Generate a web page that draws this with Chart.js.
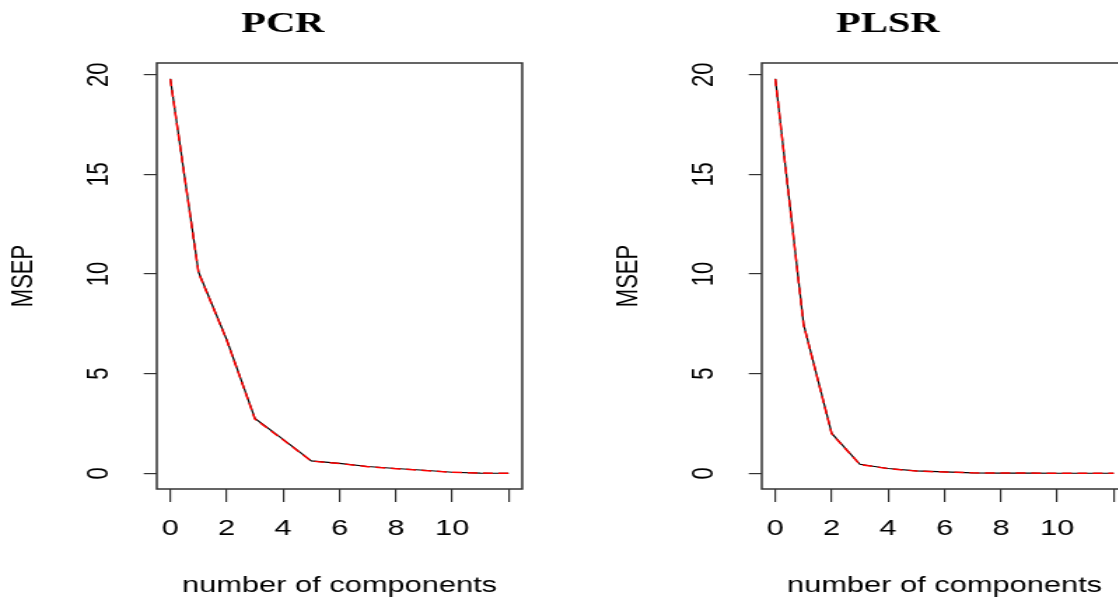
<!DOCTYPE html>
<html lang="en">

<head>
    <meta charset="UTF-8">
    <title>MSEP | PCR x PLSR</title>
    <script src="https://cdn.jsdelivr.net/npm/chart.js"></script>
    <style>
        html,
        body {
            margin: 0;
            padding: 0;
            background: #fff;
            overflow: hidden;
        }

        body {
            width: 1118px;
            height: 598px;
            position: relative;
        }

        /* o grafico original vem esticado na horizontal, por isso o scaleX */
        .painel {
            position: absolute;
            top: 0;
            transform: scaleX(1.4);
            transform-origin: 0 0;
        }

        #painelPcr {
            left: 0;
        }

        #painelPlsr {
            left: 605px;
        }
    </style>
</head>

<body>

    <div class="painel" id="painelPcr"><canvas id="graficoPcr" width="434" height="598"></canvas></div>
    <div class="painel" id="painelPlsr"><canvas id="graficoPlsr" width="434" height="598"></canvas></div>

    <script>
        // dados
        const componentes = [0, 1, 2, 3, 4, 5, 6, 7, 8, 9, 10, 11, 12];

        const pcrCV = [19.8, 10.1, 6.7, 2.75, 1.7, 0.62, 0.5, 0.34, 0.24, 0.15, 0.05, 0.01, 0.0];
        const pcrAdjCV = [19.78, 10.06, 6.68, 2.72, 1.68, 0.61, 0.49, 0.33, 0.23, 0.14, 0.05, 0.01, 0.0];

        const plsrCV = [19.8, 7.5, 2.0, 0.45, 0.24, 0.12, 0.07, 0.02, 0.01, 0.01, 0.0, 0.0, 0.0];
        const plsrAdjCV = [19.78, 7.46, 1.98, 0.44, 0.23, 0.11, 0.06, 0.02, 0.01, 0.01, 0.0, 0.0, 0.0];

        const ticksX = [0, 2, 4, 6, 8, 10, 12];
        const rotulosX = ['0', '2', '4', '6', '8', '10', ''];
        const ticksY = [0, 5, 10, 15, 20];
        const rotulosY = ['0', '5', '10', '15', '20'];

        const fonteR = '"Liberation Sans", Arial, sans-serif';

        // caixa em volta da area do grafico + titulo principal
        const moldura = {
            id: 'moldura',
            afterDraw(chart, args, opts) {
                const { ctx, chartArea: a } = chart;
                ctx.save();
                ctx.strokeStyle = '#333';
                ctx.lineWidth = 1.5;
                ctx.strokeRect(a.left, a.top, a.right - a.left, a.bottom - a.top);
                ctx.fillStyle = '#000';
                ctx.font = 'bold 29px "Liberation Serif", "Times New Roman", serif';
                ctx.textAlign = 'center';
                ctx.textBaseline = 'alphabetic';
                ctx.fillText(opts.texto, opts.x, 32);
                ctx.restore();
            }
        };

        function pontos(valores) {
            return componentes.map((c, i) => ({ x: c, y: valores[i] }));
        }

        function criarGrafico(idCanvas, titulo, cv, adjCV) {
            return new Chart(document.getElementById(idCanvas), {
                type: 'line',
                data: {
                    datasets: [{
                        label: 'CV',
                        data: pontos(cv),
                        borderColor: '#000',
                        borderWidth: 1.2,
                        pointRadius: 0,
                        tension: 0,
                        order: 2
                    },
                    {
                        label: 'adjCV',
                        data: pontos(adjCV),
                        borderColor: '#ff0000',
                        borderWidth: 1.5,
                        borderDash: [7, 4],
                        pointRadius: 0,
                        tension: 0,
                        order: 1
                    }]
                },
                options: {
                    responsive: false,
                    animation: false,
                    layout: { padding: { left: 0, top: 63, right: 61, bottom: 0 } },
                    plugins: {
                        legend: { display: false },
                        tooltip: { enabled: false },
                        moldura: { texto: titulo, x: 202 }
                    },
                    scales: {
                        x: {
                            type: 'linear',
                            min: -0.48,
                            max: 12.48,
                            afterBuildTicks: s => { s.ticks = ticksX.map(v => ({ value: v })); },
                            afterFit: s => { s.height = 109; },
                            border: { display: false },
                            grid: { drawOnChartArea: false, tickLength: 13, color: '#333', lineWidth: 1.2 },
                            ticks: {
                                padding: 14,
                                color: '#000',
                                font: { family: fonteR, size: 22 },
                                maxRotation: 0,
                                autoSkip: false,
                                callback: (v, i) => rotulosX[i]
                            },
                            title: {
                                display: true,
                                text: 'number of components',
                                color: '#000',
                                padding: 0,
                                font: { family: fonteR, size: 22, lineHeight: 1.1 }
                            }
                        },
                        y: {
                            min: -0.79,
                            max: 20.59,
                            afterBuildTicks: s => { s.ticks = ticksY.map(v => ({ value: v })); },
                            afterFit: s => { s.width = 112; },
                            border: { display: false },
                            grid: { drawOnChartArea: false, tickLength: 9.3, color: '#333', lineWidth: 1.2 },
                            ticks: {
                                padding: 19.8,
                                crossAlign: 'center',
                                minRotation: 90,
                                maxRotation: 90,
                                color: '#000',
                                font: { family: fonteR, size: 22 },
                                callback: (v, i) => rotulosY[i]
                            },
                            title: {
                                display: true,
                                text: 'MSEP',
                                color: '#000',
                                padding: { top: 3.6, bottom: 0 },
                                font: { family: fonteR, size: 22 }
                            }
                        }
                    }
                },
                plugins: [moldura]
            });
        }

        criarGrafico('graficoPcr', 'PCR', pcrCV, pcrAdjCV);
        criarGrafico('graficoPlsr', 'PLSR', plsrCV, plsrAdjCV);
    </script>

</body>

</html>
